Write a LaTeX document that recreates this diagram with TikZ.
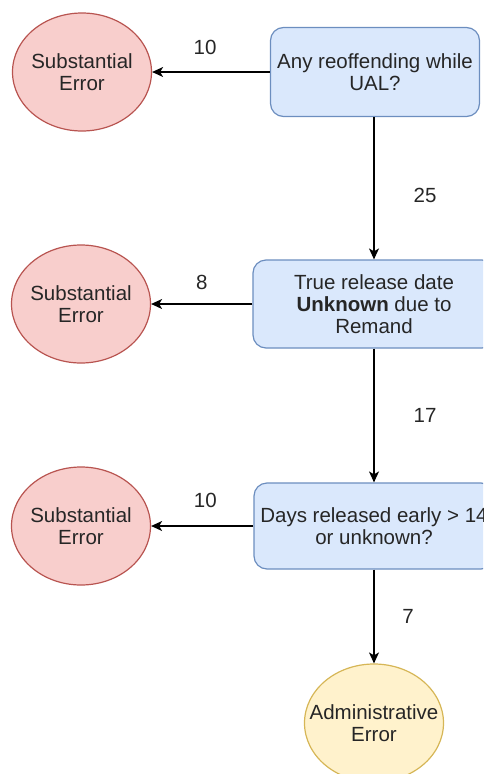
\documentclass[tikz,border=0pt]{standalone}
\usepackage{fontspec}
\setmainfont{Liberation Sans}
\usetikzlibrary{arrows.meta,shapes.geometric}
\definecolor{bluefill}{HTML}{DAE8FC}
\definecolor{blueline}{HTML}{6C8EBF}
\definecolor{redfill}{HTML}{F8CECC}
\definecolor{redline}{HTML}{B85450}
\definecolor{yelfill}{HTML}{FFF2CC}
\definecolor{yelline}{HTML}{D6B656}
\begin{document}
\begin{tikzpicture}[x=1pt,y=-1pt,
  txt/.style={font=\fontsize{20.5}{22}\selectfont, text=black!85},
  decision/.style={txt, draw=blueline, fill=bluefill, rounded corners=13pt,
    line width=1.2pt, align=center, inner sep=0pt, minimum height=89pt},
  outcome/.style={ellipse, line width=1.2pt, inner sep=0pt,
    minimum width=139pt, minimum height=118pt},
  suberr/.style={outcome, draw=redline, fill=redfill},
  adminerr/.style={outcome, draw=yelline, fill=yelfill},
  inside/.style={label={[txt, align=center]center:#1}},
  flow/.style={line width=1.3pt, -{Stealth[length=11pt,width=10pt,inset=3pt]}},
  count/.style={txt}
]
\useasboundingbox (0,0) rectangle (483,774);
\clip (0,0) rectangle (483,774);

% decision boxes
\node[decision, minimum width=209pt] (q1) at (375,72) {Any reoffending while\\UAL?};
\node[decision, minimum width=242pt, minimum height=88pt] (q2) at (374,304) {True release date\\\textbf{Unknown} due to\\Remand};
\node[decision, minimum width=240pt, minimum height=86pt] (q3) at (374,526) {Days released early > 14\\or unknown?};

% outcomes
\node[suberr, inside={Substantial\\Error}] (e1) at (82,72) {};
\node[suberr, inside={Substantial\\Error}] (e2) at (81,304) {};
\node[suberr, inside={Substantial\\Error}] (e3) at (81,526) {};
\node[adminerr, inside={Administrative\\Error}] (a1) at (374,723) {};

% connectors with counts
\draw[flow] (q1.west) -- node[count, pos=0.55, yshift=25pt] {10} (e1.east |- q1.west);
\draw[flow] (q2.west) -- node[count, pos=0.5, yshift=22pt] {8} (e2.east |- q2.west);
\draw[flow] (q3.west) -- node[count, pos=0.47, yshift=26pt] {10} (e3.east |- q3.west);
\draw[flow] (q1.south -| q2.north) -- node[count, xshift=51pt, yshift=-7pt] {25} (q2.north);
\draw[flow] (q2.south) -- node[count, xshift=51pt] {17} (q3.north);
\draw[flow] (q3.south) -- node[count, xshift=34pt] {7} (a1.north);
\end{tikzpicture}
\end{document}
